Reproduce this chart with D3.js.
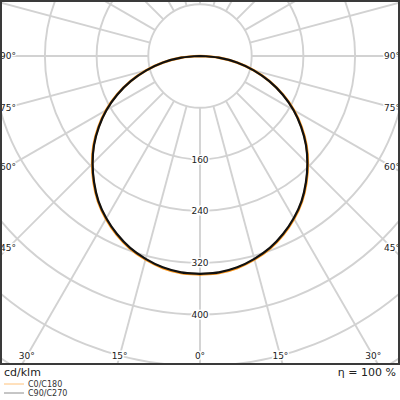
<!DOCTYPE html>
<html>
<head>
<meta charset="utf-8">
<script src="https://cdn.jsdelivr.net/npm/d3@7"></script>
<style>
  body { margin: 0; background: #fff; }
  svg { display: block; font-family: "DejaVu Sans", sans-serif; }
</style>
</head>
<body>
<svg width="400" height="400"></svg>
<script>
// gamma angles (deg) and intensities (cd/klm)
const gammas = [0, 5, 10, 15, 20, 25, 30, 35, 40, 45, 50, 55, 60, 65, 70, 75, 80, 85, 90];
const c0c180 = [338, 337, 333, 326, 317, 305, 291, 275, 256, 236, 215, 192, 168, 142, 115, 87, 58, 29, 0];
const c90c270 = [337, 336, 332, 325, 316, 304, 290, 274, 255, 235, 214, 191, 167, 141, 114, 86, 58, 29, 0];

const ringValues = [80, 160, 240, 320, 400, 480, 560];
const ringLabels = [160, 240, 320, 400];
const spokeAngles = d3.range(-180, 181, 15);
const angleLabels = [0, 15, 30, 45, 60, 75, 90];

const width = 400;
const frameH = 364;
const cx = 200, cy = 56;

const svg = d3.select("svg");

const r = d3.scaleLinear().domain([0, 80]).range([0, 51.7]);

svg.append("clipPath").attr("id", "plotclip")
    .append("rect").attr("x", 1).attr("y", 1).attr("width", width - 2).attr("height", frameH - 1);

const plot = svg.append("g").attr("clip-path", "url(#plotclip)");
const grid = plot.append("g").attr("transform", `translate(${cx},${cy})`);

// rings
grid.selectAll("circle.ring")
    .data(ringValues)
    .join("circle")
    .attr("class", "ring")
    .attr("r", d => r(d))
    .attr("fill", "none")
    .attr("stroke", "#d2d2d2")
    .attr("stroke-width", 1.9);

// spokes, starting at the first ring
grid.selectAll("line.spoke")
    .data(spokeAngles)
    .join("line")
    .attr("class", "spoke")
    .attr("x1", d => r(80) * Math.sin(d * Math.PI / 180))
    .attr("y1", d => r(80) * Math.cos(d * Math.PI / 180))
    .attr("x2", d => r(900) * Math.sin(d * Math.PI / 180))
    .attr("y2", d => r(900) * Math.cos(d * Math.PI / 180))
    .attr("stroke", "#d2d2d2")
    .attr("stroke-width", 1.9);

// curves: right half is C0 / C90, left half C180 / C270 (mirrored)
function fullCurve(vals) {
    const right = gammas.map((g, i) => [Math.PI - g * Math.PI / 180, r(vals[i])]);
    const left = gammas.map((g, i) => [Math.PI + g * Math.PI / 180, r(vals[i])]).reverse();
    return left.concat(right);
}

const radial = d3.lineRadial().curve(d3.curveCardinal);

grid.append("path")
    .attr("d", radial(fullCurve(c0c180)))
    .attr("fill", "none")
    .attr("stroke", "#ff9a1f")
    .attr("stroke-width", 2.6);

grid.append("path")
    .attr("d", radial(fullCurve(c90c270)))
    .attr("fill", "none")
    .attr("stroke", "#111")
    .attr("stroke-width", 2.2);

// ring value labels
grid.selectAll("text.rlab")
    .data(ringLabels)
    .join("text")
    .attr("class", "rlab")
    .attr("x", 0)
    .attr("y", d => r(d))
    .attr("dy", "0.35em")
    .attr("text-anchor", "middle")
    .attr("font-size", 9)
    .attr("fill", "#222")
    .attr("stroke", "#fff")
    .attr("stroke-width", 3)
    .attr("paint-order", "stroke")
    .text(d => d);

// angle labels, placed along each spoke at an inset from the frame
const inset = 8;
const angleLabelPos = [];
angleLabels.forEach(a => {
    const sides = a === 0 ? [1] : [-1, 1];
    sides.forEach(s => {
        const t = a * Math.PI / 180;
        const dx = Math.sin(t), dy = Math.cos(t);
        const kx = dx > 1e-6 ? (cx - inset) / dx : Infinity;
        const ky = dy > 1e-6 ? (frameH - inset - cy) / dy : Infinity;
        const k = Math.min(kx, ky);
        angleLabelPos.push({ text: a + "°", x: cx + s * k * dx, y: cy + k * dy });
    });
});

svg.selectAll("text.alab")
    .data(angleLabelPos)
    .join("text")
    .attr("class", "alab")
    .attr("x", d => d.x)
    .attr("y", d => d.y)
    .attr("dy", "0.35em")
    .attr("text-anchor", "middle")
    .attr("font-size", 9)
    .attr("fill", "#222")
    .attr("stroke", "#fff")
    .attr("stroke-width", 3)
    .attr("paint-order", "stroke")
    .text(d => d.text);

// frame
svg.append("rect")
    .attr("x", 1).attr("y", 1)
    .attr("width", width - 2).attr("height", frameH - 1)
    .attr("fill", "none")
    .attr("stroke", "#3a3a3a")
    .attr("stroke-width", 2);

svg.append("text")
    .attr("x", 4).attr("y", 376)
    .attr("font-size", 11)
    .attr("fill", "#222")
    .text("cd/klm");

svg.append("text")
    .attr("x", 396).attr("y", 376)
    .attr("text-anchor", "end")
    .attr("font-size", 11)
    .attr("fill", "#222")
    .text("η = 100 %");

// legend
const legendItems = [
    { name: "C0/C180", color: "#ffc27a" },
    { name: "C90/C270", color: "#8c8c8c" }
];
const legend = svg.append("g").selectAll("g")
    .data(legendItems)
    .join("g")
    .attr("transform", (d, i) => `translate(4,${384 + i * 9})`);
legend.append("line")
    .attr("x1", 0).attr("x2", 20)
    .attr("stroke", d => d.color)
    .attr("stroke-width", 1);
legend.append("text")
    .attr("x", 24).attr("dy", "0.35em")
    .attr("font-size", 8)
    .attr("fill", "#333")
    .text(d => d.name);
</script>
</body>
</html>
